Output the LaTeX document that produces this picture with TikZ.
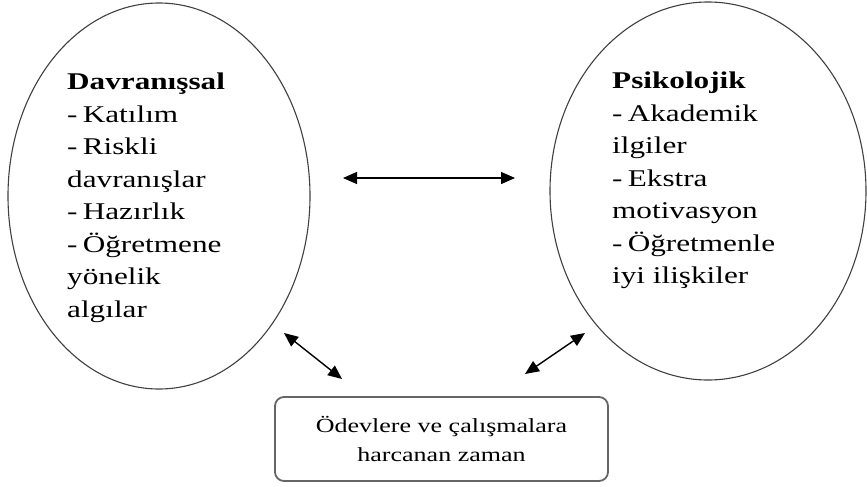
\documentclass[tikz,border=0pt]{standalone}
\usepackage{fontspec}
\setmainfont[FakeStretch=1.3]{Liberation Serif}
\usetikzlibrary{arrows.meta,shapes.geometric}
\newcommand{\dsh}{-\hspace{0.22em}}
\tikzset{
  oval/.style={ellipse, draw=black!75, line width=1.1pt, inner sep=0pt},
  body/.style={inner sep=0pt, align=left, anchor=north west, font=\fontsize{24}{32.5}\selectfont},
  timebox/.style={draw=black!60, line width=1.8pt, rounded corners=9pt, align=center,
    minimum width=333pt, minimum height=84pt, inner sep=0pt, font=\fontsize{20}{29}\selectfont},
  link/.style={line width=1.4pt, {Triangle[length=14pt,width=12pt]}-{Triangle[length=14pt,width=12pt]}}
}
\begin{document}
\begin{tikzpicture}[x=1pt,y=-1pt]
\useasboundingbox (0,0) rectangle (867,487);
\node[oval, minimum width=302pt, minimum height=386pt] (L) at (159,196) {};
\node[oval, minimum width=316pt, minimum height=378pt] (R) at (708,191) {};
\node[body] (Lt) at (67,73) {\textbf{Davranışsal}\\\dsh Katılım\\\dsh Riskli\\davranışlar\\\dsh Hazırlık\\\dsh Öğretmene\\yönelik\\algılar};
\node[body] (Rt) at (612,72) {\textbf{Psikolojik}\\\dsh Akademik\\ilgiler\\\dsh Ekstra\\motivasyon\\\dsh Öğretmenle\\iyi ilişkiler};
\node[timebox] (B) at (441.5,439) {Ödevlere ve çalışmalara\\harcanan zaman};
\coordinate (h1) at (343,178);
\coordinate (h2) at (515,178);
\coordinate (l1) at (284,333);
\coordinate (l2) at (342,379);
\coordinate (r1) at (585,333);
\coordinate (r2) at (525,374);
\draw[link] (h1) -- (h2);
\draw[link] (l1) -- (l2);
\draw[link] (r1) -- (r2);
\end{tikzpicture}
\end{document}
